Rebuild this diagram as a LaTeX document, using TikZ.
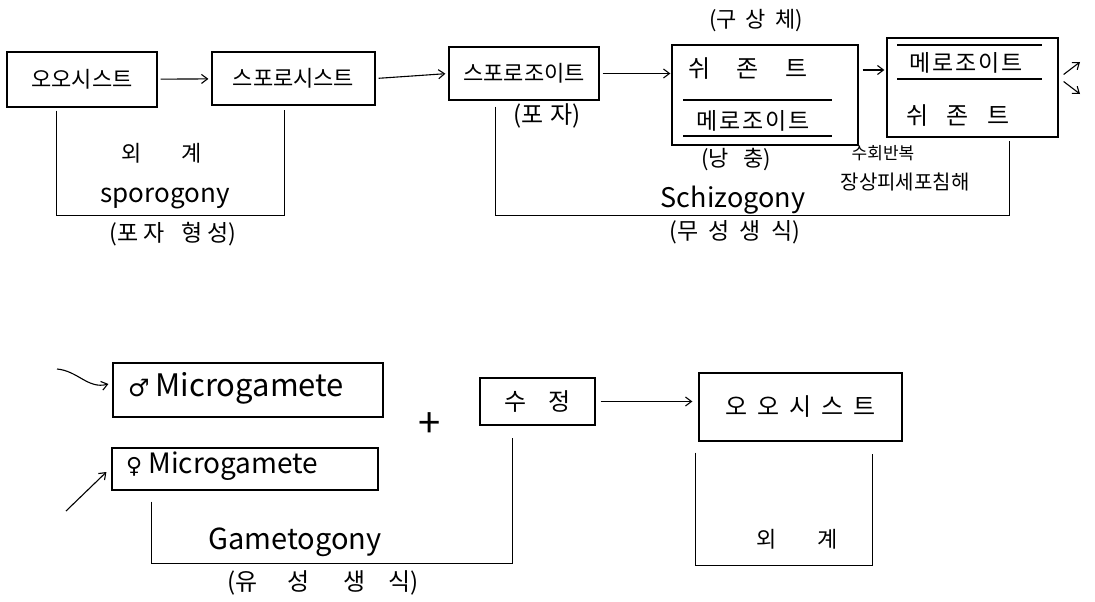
\documentclass[tikz,border=0pt]{standalone}
\usepackage{fontspec}
\setmainfont{Noto Sans CJK KR}
\newfontfamily\symfont{DejaVu Sans}
\usetikzlibrary{arrows.meta,calc}
\newcommand\myfs[1]{\fontsize{#1}{#1}\selectfont}
\begin{document}
\begin{tikzpicture}[x=1pt,y=-1pt,
  box/.style n args={2}{draw,line width=1.2pt,inner sep=0pt,minimum width=#1pt,minimum height=#2pt},
  lbl/.style={inner sep=0pt,font=\myfs{#1}},
  lbl/.default=22,
  arr/.style={-{Straight Barb[length=6pt,width=9pt]},line width=1.1pt},
  ln/.style={line width=1.1pt}]
\useasboundingbox (0,0) rectangle (1095,602);
% top row boxes
\node[box={150}{55},lbl=22] (b1) at (82,79.5) {오오시스트};
\node[box={163}{53},lbl=22] (b2) at (293.5,78.5) {스포로시스트};
\node[box={150}{53},lbl=22] (b3) at (524,73.5) {스포로조이트};
\node[box={186}{100}] (b4) at (765,95) {};
\node[lbl=24] (b4a) at (748,69) {쉬\hspace{26pt}존\hspace{26pt}트};
\node[lbl=23] (b4b) at (753,121) {메\hspace{2pt}로\hspace{2pt}조\hspace{2pt}이\hspace{2pt}트};
\draw[ln] (683,100) -- (832,100);
\draw[ln] (683,136) -- (832,136);
\node[box={171}{99}] (b5) at (972.5,87.5) {};
\node[lbl=23] (b5a) at (966,63) {메\hspace{2pt}로\hspace{2pt}조\hspace{2pt}이\hspace{2pt}트};
\draw[ln] (897,45) -- (1042,45);
\draw[ln] (897,79) -- (1042,79);
\node[lbl=24] (b5b) at (958,116) {쉬\hspace{18pt}존\hspace{18pt}트};
% arrows
\draw[arr,shorten <=3pt,shorten >=3pt] (b1) -- (b2);
\draw[arr,shorten <=3pt,shorten >=3pt] (b2.east) -- (b3.west);
\draw[arr,shorten <=3pt,shorten >=1pt] (b3.east) -- (b3.east -| b4.west);
\draw[arr,shorten <=4pt,shorten >=2pt] ([yshift=25pt]b4.east) -- ([yshift=25pt]b4.east -| b5.west);
\coordinate (o1) at (1080,62);
\coordinate (o2) at (1080,94);
\draw[arr] ([shift={(5,-13)}]b5.east) -- (o1);
\draw[arr] ([shift={(5,-6)}]b5.east) -- (o2);
% labels top
\node[lbl=22] (t1) at (756,21) {(구\hspace{9pt}상\hspace{9pt}체)};
\node[lbl=22] (t2) at (736,160) {(낭\hspace{14pt}충)};
\node[lbl=24] (t3) at (547,116) {(포\hspace{6pt}자)};
\node[lbl=17] (t4) at (883,153) {수회반복};
\node[lbl=20] (t5) at (905,182) {장상피세포침해};
% sporogony bracket
\draw[ln] ([shift={(50,3)}]b1.south west) -- ++(0,105) -| ([shift={(73,4)}]b2.south west);
\node[lbl=22] (s1) at (162,153) {외\hspace{40pt}계};
\node[lbl=26] (s2) at (165,199) {sporogony};
\node[lbl=23] (s3) at (173,234) {(포\hspace{5pt}자\hspace{16pt}형\hspace{5pt}성)};
% schizogony bracket
\draw[ln] ([shift={(47,6)}]b3.south west) -- ++(0,109) -| ([shift={(123,3)}]b5.south west);
\node[lbl=27] (z1) at (733,200) {Schizogony};
\node[lbl=23] (z2) at (735,232) {(무\hspace{10pt}성\hspace{10pt}생\hspace{10pt}식)};
% bottom row
\node[box={270}{54}] (b6) at (248,390) {};
\node[lbl=31,anchor=west] (b6t) at (128,388) {{\symfont\myfs{24}♂}\hspace{6pt}Microgamete};
\node[box={266}{42}] (b7) at (245,469) {};
\node[lbl=28,anchor=west] (b7t) at (126,466) {{\symfont\myfs{22}♀}\hspace{6pt}Microgamete};
\node[lbl=40] (plus) at (430,425) {+};
\node[box={115}{47},lbl=24] (b9) at (537.5,401.5) {수\hspace{22pt}정};
\node[box={203}{68},lbl=24] (b8) at (800.5,407) {오\hspace{10pt}오\hspace{10pt}시\hspace{10pt}스\hspace{10pt}트};
\coordinate (i1) at (57,369);
\coordinate (i2) at (66,511);
\draw[arr] (i1) to[out=-5,in=195] ([shift={(-4,-6)}]b6.west);
\draw[arr] (i2) -- ([shift={(-5,3)}]b7.west);
\draw[arr,shorten <=5pt,shorten >=6pt] (b9.east) -- (b9.east -| b8.west);
% gametogony bracket
\draw[ln] ([shift={(40,11)}]b7.south west) -- ++(0,62) -| ([shift={(33,12)}]b9.south west);
\node[lbl=29] (g1) at (295,542) {Gametogony};
\node[lbl=24] (g2) at (323,583) {(유\hspace{30pt}성\hspace{34pt}생\hspace{22pt}식)};
% bottom 외계 bracket
\draw[ln] ([shift={(-3,11)}]b8.south west) -- ++(0,113) -| ([shift={(174,12)}]b8.south west);
\node[lbl=22] (e1) at (797,539) {외\hspace{40pt}계};
\end{tikzpicture}
\end{document}
